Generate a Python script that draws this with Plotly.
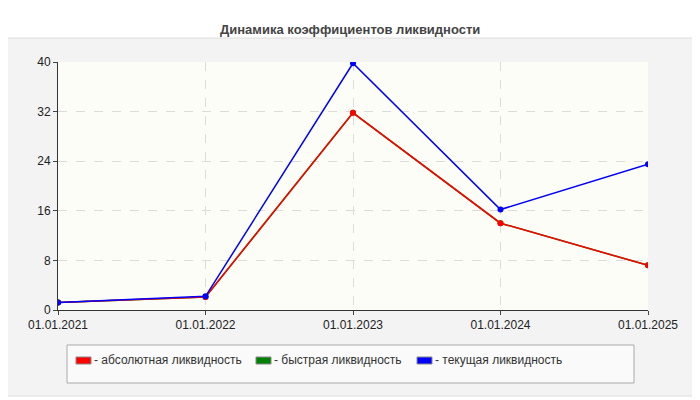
import plotly.graph_objects as go

# ---- Data ---- #
dates = ['01.01.2021', '01.01.2022', '01.01.2023', '01.01.2024', '01.01.2025']
absolute = [1.2, 2.1, 31.8, 14.0, 7.2]
quick = [1.2, 2.1, 31.8, 14.0, 7.2]
current = [1.2, 2.2, 39.8, 16.2, 23.5]
names = ['- абсолютная ликвидность', '- быстрая ликвидность', '- текущая ликвидность']
colors = ['red', 'green', 'blue']


# page pixel -> paper coords (page has 8px body margin)
def px2x(p):
    return (p - 58) / 590


def px2y(p):
    return (310 - p) / 248


fig = go.Figure()
for vals, col, name in [(quick, colors[1], names[1]), (absolute, colors[0], names[0]), (current, colors[2], names[2])]:
    fig.add_trace(go.Scatter(x=dates, y=vals, mode='lines+markers', name=name,
                             line=dict(color=col, width=1.5), marker=dict(size=6, color=col)))

shapes = [
    dict(type='rect', xref='paper', yref='paper', x0=px2x(1), x1=px2x(699), y0=px2y(396), y1=px2y(38),
         fillcolor='#f3f3f3', line=dict(color='#dddddd', width=1), layer='below'),
    dict(type='rect', xref='paper', yref='paper', x0=0, x1=1, y0=0, y1=1,
         fillcolor='#fdfdf7', line=dict(width=0), layer='below'),
    dict(type='rect', xref='paper', yref='paper', x0=px2x(67), x1=px2x(634), y0=px2y(383), y1=px2y(345),
         fillcolor='#fafafa', line=dict(color='#aaaaaa', width=1)),
]
annotations = [dict(text='<b>Динамика коэффициентов ликвидности</b>', xref='paper', yref='paper',
                    x=px2x(350), y=px2y(20), showarrow=False, font=dict(size=13, color='#444'))]
for sx, col, name in [(76, colors[0], names[0]), (256, colors[1], names[1]), (417, colors[2], names[2])]:
    shapes.append(dict(type='rect', xref='paper', yref='paper', x0=px2x(sx), x1=px2x(sx + 15),
                       y0=px2y(364), y1=px2y(357), fillcolor=col, line=dict(color='#888', width=1)))
    annotations.append(dict(text=name, xref='paper', yref='paper', x=px2x(sx + 16), y=px2y(360),
                            xanchor='left', yanchor='middle', showarrow=False,
                            font=dict(size=12, color='#333')))

fig.update_layout(
    width=692, height=392, showlegend=False,
    margin=dict(l=50, r=52, t=54, b=90),
    paper_bgcolor='white', plot_bgcolor='#fdfdf7',
    font=dict(family='Liberation Sans, Arial', size=12, color='#222'),
    shapes=shapes, annotations=annotations,
    xaxis=dict(type='category', range=[0, 4], showgrid=True, griddash='dash', gridcolor='#dcdcdc',
               showline=True, linecolor='#333', ticks='outside', ticklen=4, automargin=False),
    yaxis=dict(range=[0, 40], tickvals=[0, 8, 16, 24, 32, 40], showgrid=True, griddash='dash',
               gridcolor='#dcdcdc', showline=True, linecolor='#333', ticks='outside', ticklen=4,
               zeroline=False, automargin=False),
)
fig.write_html("out.html")
